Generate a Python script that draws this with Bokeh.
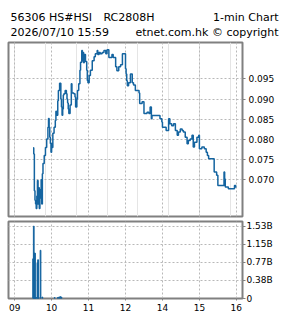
from bokeh.plotting import figure
from bokeh.layouts import column, row
from bokeh.models import Range1d, FixedTicker, Grid, PrintfTickFormatter
from bokeh.core.properties import value
from bokeh.embed import file_html
from bokeh.resources import INLINE

# ---------------- data ----------------
title_left_1 = "56306 HS#HSI"
title_left_1b = "RC2808H"
title_right_1 = "1-min Chart"
title_left_2 = "2026/07/10 15:59"
title_right_2 = "etnet.com.hk \u00a9 copyright"

price_times = [
    "09:30", "09:31", "09:32", "09:33", "09:34", "09:35", "09:36", "09:37", "09:38", "09:39",
    "09:40", "09:41", "09:42", "09:43", "09:44", "09:45", "09:46", "09:48", "09:50", "09:52",
    "09:54", "09:55", "09:56", "09:57", "09:58", "09:59", "10:00", "10:01", "10:02", "10:04",
    "10:06", "10:07", "10:08", "10:10", "10:11", "10:13", "10:15", "10:16", "10:17", "10:18",
    "10:19", "10:20", "10:22", "10:24", "10:25", "10:26", "10:27", "10:28", "10:30", "10:32",
    "10:33", "10:36", "10:38", "10:39", "10:41", "10:42", "10:44", "10:46", "10:47", "10:49",
    "10:50", "10:51", "10:52", "10:53", "10:55", "10:57", "10:58", "10:59", "11:01", "11:03",
    "11:06", "11:09", "11:11", "11:14", "11:15", "11:17", "11:19", "11:22", "11:25", "11:28",
    "11:30", "11:33", "11:38", "11:40", "11:44", "11:46", "11:49", "11:52", "11:55",
    "13:00", "13:01", "13:02", "13:03", "13:05", "13:08", "13:11", "13:13", "13:16", "13:22",
    "13:23", "13:27", "13:30", "13:35", "13:38", "13:40", "13:42", "13:43", "13:56", "13:59",
    "14:00", "14:06", "14:10", "14:12", "14:15", "14:18", "14:21", "14:24", "14:26", "14:29",
    "14:32", "14:34", "14:37", "14:40", "14:42", "14:45", "14:48", "14:50", "14:52", "14:56",
    "14:59", "15:00", "15:04", "15:08", "15:11", "15:13", "15:15", "15:24", "15:28", "15:30",
    "15:40", "15:41", "15:42", "15:47", "15:57", "15:59", "16:00",
]
price_values = [
    0.0779, 0.0764, 0.0673, 0.0649, 0.0640, 0.0629, 0.0660, 0.0698, 0.0640, 0.0680,
    0.0629, 0.0675, 0.0655, 0.0700, 0.0640, 0.0715, 0.0740, 0.0760, 0.0780, 0.0801,
    0.0830, 0.0852, 0.0830, 0.0805, 0.0790, 0.0768, 0.0790, 0.0780, 0.0815, 0.0830,
    0.0847, 0.0870, 0.0860, 0.0896, 0.0921, 0.0939, 0.0900, 0.0880, 0.0860, 0.0875,
    0.0910, 0.0913, 0.0921, 0.0913, 0.0900, 0.0890, 0.0875, 0.0864, 0.0885, 0.0938,
    0.0915, 0.0913, 0.0905, 0.0880, 0.0900, 0.0921, 0.0938, 0.0971, 0.0991, 0.1020,
    0.0995, 0.1015, 0.0990, 0.1010, 0.0993, 0.0971, 0.0946, 0.0940, 0.0958, 0.0971,
    0.0995, 0.1005, 0.1012, 0.1020, 0.1010, 0.1015, 0.1012, 0.1015, 0.1020, 0.1012,
    0.1022, 0.1003, 0.1010, 0.1003, 0.0980, 0.0970, 0.0980, 0.0985, 0.1012,
    0.0975, 0.0962, 0.0945, 0.0933, 0.0940, 0.0962, 0.0940, 0.0935, 0.0921, 0.0915,
    0.0889, 0.0893, 0.0864, 0.0867, 0.0864, 0.0880, 0.0851, 0.0859, 0.0851, 0.0843,
    0.0830, 0.0822, 0.0851, 0.0839, 0.0834, 0.0839, 0.0822, 0.0810, 0.0818, 0.0826,
    0.0822, 0.0818, 0.0805, 0.0789, 0.0797, 0.0801, 0.0810, 0.0781, 0.0793, 0.0805,
    0.0810, 0.0777, 0.0781, 0.0777, 0.0768, 0.0760, 0.0752, 0.0719, 0.0711, 0.0686,
    0.0719, 0.0702, 0.0682, 0.0678, 0.0686, 0.0682, 0.0682,
]

volume_times = ["09:30", "09:31", "09:32", "09:33", "09:34", "09:35", "09:37", "09:38",
                "09:39", "09:42", "09:45", "10:05", "10:10", "10:12", "10:14", "10:16"]
volume_values_b = [0.84, 1.53, 0.96, 0.96, 0.02, 0.02, 0.75, 0.82,
                   0.02, 1.02, 0.03, 0.02, 0.02, 0.03, 0.04, 0.03]

x_tick_clock = ["09:00", "10:00", "11:00", "12:00", "14:00", "15:00", "16:00"]
x_tick_labels = ["09", "10", "11", "12", "14", "15", "16"]
price_ticks = [0.070, 0.075, 0.080, 0.085, 0.090, 0.095]
volume_ticks = [0, 0.3825, 0.765, 1.1475, 1.53]
volume_tick_labels = ["0", "0.38B", "0.77B", "1.15B", "1.53B"]


def trading_minutes(hhmm):
    h, m = map(int, hhmm.split(":"))
    t = h * 60 + m
    if t >= 13 * 60:
        return t - 9 * 60 - 60
    return min(t, 12 * 60) - 9 * 60


price_x = [trading_minutes(t) for t in price_times]
vol_x = [trading_minutes(t) for t in volume_times]
x_ticks = [trading_minutes(t) for t in x_tick_clock]

BLUE = "#1464a0"
FRAME = "#808080"
GRID = "#b8b8b8"
FONT = "DejaVu Sans"
BL, BR = 8, 43

# ---------------- header (its own full-width frame, data coords == pixels) ----------------
head = figure(width=285, height=38, x_range=Range1d(0, 285), y_range=Range1d(38, 0),
              x_axis_location=None, y_axis_location=None, toolbar_location=None,
              output_backend="svg", min_border=0)
head.grid.visible = False
head.outline_line_color = None
tstyle = dict(text_font=value(FONT), text_font_size="11px", text_color="black",
              text_baseline="alphabetic")
head.text(x=[10, 103, 10], y=[16.5, 16.5, 32], text=[title_left_1, title_left_1b, title_left_2],
          text_align="left", **tstyle)
head.text(x=[278, 278], y=[16.5, 32], text=[title_right_1, title_right_2],
          text_align="right", **tstyle)

# ---------------- price ----------------
p = figure(width=285, height=180, x_range=Range1d(-10, 370), y_range=Range1d(0.0609, 0.1040),
           x_axis_location=None, y_axis_location="right", toolbar_location=None,
           output_backend="svg", min_border_left=BL, min_border_right=BR,
           min_border_top=4, min_border_bottom=2)
p.outline_line_color = FRAME
p.outline_line_width = 2
p.yaxis.ticker = FixedTicker(ticks=price_ticks)
p.yaxis.formatter = PrintfTickFormatter(format="%.3f")
ax = p.yaxis[0]
ax.axis_line_color = None
ax.major_tick_line_color = FRAME
ax.major_tick_out = 3
ax.major_tick_in = 0
ax.minor_tick_line_color = None
ax.major_label_standoff = 3
ax.major_label_text_font = FONT
ax.major_label_text_font_size = "9px"
ax.major_label_text_color = "black"
p.ygrid.ticker = FixedTicker(ticks=price_ticks)
p.ygrid.grid_line_color = GRID
p.ygrid.grid_line_dash = "2 2"
p.add_layout(Grid(dimension=0, ticker=FixedTicker(ticks=x_ticks),
                  grid_line_color=GRID, grid_line_dash="2 2"))
p.step(x=price_x, y=price_values, mode="after", line_color=BLUE, line_width=1.5)

# ---------------- volume ----------------
v = figure(width=285, height=100, x_range=p.x_range, y_range=Range1d(0, 1.629),
           x_axis_location="below", y_axis_location="right", toolbar_location=None,
           output_backend="svg", min_border_left=BL, min_border_right=BR,
           min_border_top=3, min_border_bottom=20)
v.outline_line_color = FRAME
v.outline_line_width = 2
v.yaxis.ticker = FixedTicker(ticks=volume_ticks)
v.yaxis.major_label_overrides = {t: l for t, l in zip(volume_ticks, volume_tick_labels)}
v.xaxis.ticker = FixedTicker(ticks=x_ticks)
v.xaxis.major_label_overrides = {t: l for t, l in zip(x_ticks, x_tick_labels)}
for ax in [v.yaxis[0], v.xaxis[0]]:
    ax.axis_line_color = None
    ax.major_tick_line_color = FRAME
    ax.major_tick_in = 0
    ax.minor_tick_line_color = None
    ax.major_label_text_font = FONT
    ax.major_label_text_font_size = "9px"
    ax.major_label_text_color = "black"
v.yaxis.major_tick_out = 3
v.yaxis.major_label_standoff = 1
v.xaxis.major_tick_out = 2
v.xaxis.major_label_standoff = 3
v.ygrid.ticker = FixedTicker(ticks=volume_ticks)
v.xgrid.ticker = FixedTicker(ticks=x_ticks)
for g in [v.xgrid[0], v.ygrid[0]]:
    g.grid_line_color = GRID
    g.grid_line_dash = "2 2"
v.vbar(x=vol_x, top=volume_values_b, width=1.2, bottom=0, color=BLUE)

layout = column(row(head), column(p, v, spacing=0), spacing=0)
open("out.html", "w").write(file_html(layout, INLINE))
